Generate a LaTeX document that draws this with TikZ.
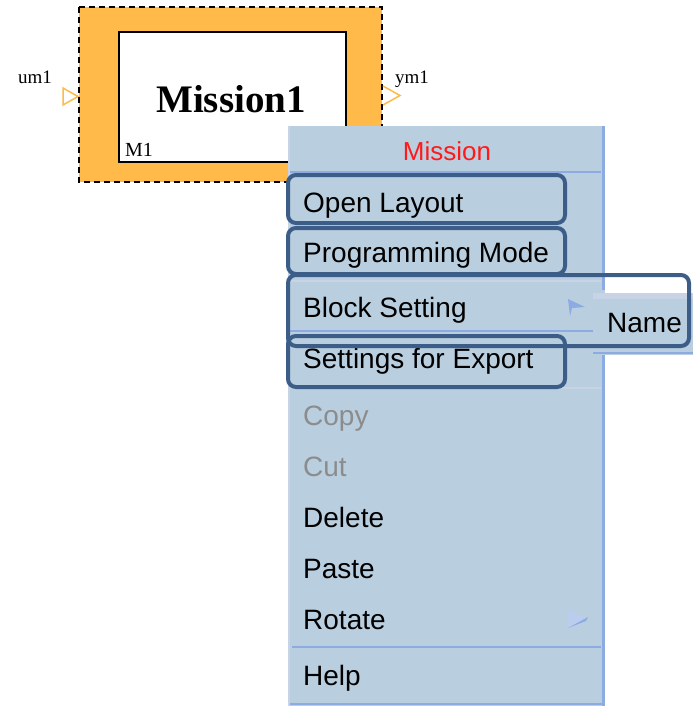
\documentclass[tikz,border=0pt]{standalone}
\usepackage{fontspec}
\newfontfamily\menufont{Liberation Sans}
\newfontfamily\blockfont{Liberation Serif}
\definecolor{blockorange}{HTML}{FFBA4A}
\definecolor{menubg}{HTML}{B9CFE0}
\definecolor{menuline}{HTML}{8DABE3}
\definecolor{menulight}{HTML}{C9D3E6}
\definecolor{hilite}{HTML}{3C5D88}
\definecolor{titlered}{HTML}{FF1A1A}
\begin{document}
\begin{tikzpicture}[x=1pt,y=-1pt,
  item/.style={anchor=base west,inner sep=0pt,font=\menufont\fontsize{28}{28}\selectfont},
  greyitem/.style={item,text=black!45},
  hbox/.style={draw=hilite,line width=4pt,rounded corners=8pt},
  port/.style={draw=blockorange,line width=1.5pt,fill=white},
  portlabel/.style={anchor=base west,inner sep=0pt,font=\blockfont\fontsize{19}{19}\selectfont}]
\useasboundingbox (0,0) rectangle (693,706);
% block
\filldraw[fill=blockorange,draw=black,line width=1.5pt,dash pattern=on 6pt off 4pt] (79,7) rectangle (382,182);
\filldraw[fill=white,draw=black,line width=2pt] (119,32) rectangle (346,162);
\node[anchor=base,inner sep=0pt,font=\blockfont\bfseries\fontsize{39}{39}\selectfont] (title) at (231,113) {Mission1};
\node[anchor=base west,inner sep=0pt,font=\blockfont\fontsize{20}{20}\selectfont] (m1) at (125,156) {M1};
\draw[port] (63,88) -- (78,96.5) -- (63,105) -- cycle;
\draw[port] (383,86) -- (400,95.5) -- (383,105);
\node[portlabel] (um1) at (18,84) {um1};
\node[portlabel] (ym1) at (395,84) {ym1};
% menu
\fill[menubg] (288,126) rectangle (605,706);
\draw[menuline,line width=3pt] (603,126) -- (603,290);
\draw[menuline,line width=3pt] (603,354) -- (603,706);
\draw[menuline,line width=1.5pt] (290,172) -- (601,172);
\draw[menulight,line width=2pt] (290,281) -- (601,281);
\draw[menuline,line width=2pt] (290,331) -- (601,331);
\draw[menulight,line width=1.5pt] (290,388) -- (601,388);
\draw[menuline,line width=2pt] (292,647) -- (601,647);
\draw[menuline,line width=2pt] (290,704) -- (605,704);
\draw[menulight,line width=2pt] (289,126) -- (289,706);
% submenu
\fill[menubg] (593,293) rectangle (693,355);
\fill[menulight] (593,293) rectangle (693,299);
\draw[menuline,line width=2pt] (593,353) -- (693,353);
\node[anchor=base,inner sep=0pt,font=\menufont\fontsize{26}{26}\selectfont,text=titlered] (mtitle) at (447,160) {Mission};
\node[item] (open) at (303,212) {Open Layout};
\node[item] (prog) at (303,262) {Programming Mode};
\node[item] (block) at (303,317) {Block Setting};
\node[item] (exp) at (303,368) {Settings for Export};
\node[greyitem] (copy) at (303,425) {Copy};
\node[greyitem] (cut) at (303,476) {Cut};
\node[item] (del) at (303,527) {Delete};
\node[item] (paste) at (303,578) {Paste};
\node[item] (rot) at (303,629) {Rotate};
\node[item] (help) at (303,685) {Help};
\node[item] (name) at (607,332) {Name};
% submenu arrows
\fill[menuline] (568,299) -- (585,307) -- (572,308) -- (570,316) -- cycle;
\fill[menuline!60] (568,610) -- (588,619) -- (568,628) -- cycle;
\fill[menuline] (568,628) -- (588,617) -- (586,621) -- cycle;
% highlight boxes
\draw[hbox] (288,175) rectangle (565,223);
\draw[hbox] (288,228) rectangle (565,274);
\draw[hbox] (288,275) rectangle (689,346);
\draw[hbox] (288,336) rectangle (565,387);
\end{tikzpicture}
\end{document}
